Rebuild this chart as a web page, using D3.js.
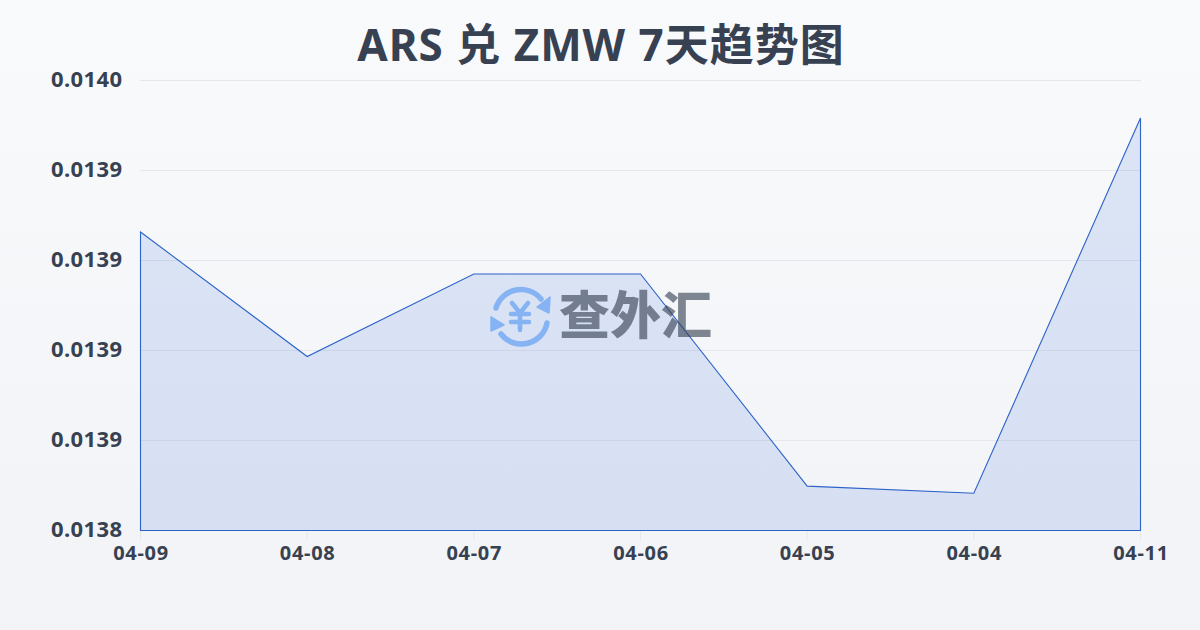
<!DOCTYPE html>
<html><head><meta charset="utf-8">
<script src="https://cdn.jsdelivr.net/npm/d3@7"></script>
<style>
html,body{margin:0;padding:0;width:1200px;height:630px;overflow:hidden}
svg{display:block}
text{font-family:"Noto Sans","Noto Sans CJK SC",sans-serif}
</style></head><body>
<svg id="c" width="1200" height="630"></svg>
<script>
const categories = ["04-09","04-08","04-07","04-06","04-05","04-04","04-11"];
const rates = [0.0139495,0.013908,0.0139355,0.0139355,0.0138648,0.0138624,0.0139875];
const yTicks = [0.01385,0.01388,0.01391,0.01394,0.01397,0.0140];
const yTickLabels = ["0.0138","0.0139","0.0139","0.0139","0.0139","0.0140"];
const titleText = "ARS 兑 ZMW 7天趋势图";
const watermarkText = "查外汇";

const svg = d3.select("#c");
const defs = svg.append("defs");
const bg = defs.append("linearGradient").attr("id","bg").attr("x1",0).attr("y1",0).attr("x2",0).attr("y2",1);
bg.append("stop").attr("offset","0%").attr("stop-color","#f8fafc");
bg.append("stop").attr("offset","100%").attr("stop-color","#f1f3f6");
svg.append("rect").attr("width",1200).attr("height",630).attr("fill","url(#bg)");

const x = d3.scalePoint().domain(categories).range([140.5,1140.5]);
const y = d3.scaleLinear().domain([0.01385,0.0140]).range([530.5,80.5]);

svg.append("text").attr("x",601).attr("y",61).attr("text-anchor","middle")
  .attr("font-size",44).attr("font-weight",700).attr("fill","#374151")
  .attr("letter-spacing",1).text(titleText);

svg.append("g").selectAll("line").data(yTicks).join("line")
  .attr("x1",140).attr("x2",1141)
  .attr("y1",d=>y(d)).attr("y2",d=>y(d))
  .attr("stroke","#e5e7eb").attr("stroke-width",1);

svg.append("g").selectAll("line").data(categories).join("line")
  .attr("x1",d=>x(d)).attr("x2",d=>x(d)).attr("y1",531).attr("y2",540)
  .attr("stroke","#e5e7eb").attr("stroke-width",1);

const pts = categories.map((c,i)=>({c,v:rates[i]}));
const area = d3.area().x(d=>x(d.c)).y0(y.range()[0]).y1(d=>y(d.v));
svg.append("path").datum(pts).attr("d",area).attr("fill","#2a5fdc").attr("fill-opacity",0.13)
  .attr("stroke","#2d62c8").attr("stroke-width",1.1);

svg.append("g").selectAll("text").data(yTicks).join("text")
  .attr("x",122.5).attr("text-anchor","end")
  .attr("y",d=>y(d)+6).attr("font-size",22).attr("font-weight",700).attr("fill","#374151")
  .attr("letter-spacing",0.4).text((d,i)=>yTickLabels[i]);

svg.append("g").selectAll("text").data(categories).join("text")
  .attr("x",d=>x(d)+0.5).attr("y",560).attr("text-anchor","middle")
  .attr("font-size",20).attr("font-weight",700).attr("fill","#374151")
  .attr("letter-spacing",0.7).text(d=>d);

// watermark logo and wordmark
const wm = svg.append("g").attr("opacity",0.6);
const blue = "#4f94f5";
const arcs = wm.append("g").attr("fill","none").attr("stroke",blue).attr("stroke-width",5.5).attr("stroke-linecap","round");
arcs.append("path").attr("d","M496,308 A26,26 0 0 1 541,299");
arcs.append("path").attr("d","M547,323 A26,26 0 0 1 501,334");
wm.append("path").attr("d","M550,297 L549,313 L537,307 Z").attr("fill",blue).attr("stroke",blue).attr("stroke-width",1.5).attr("stroke-linejoin","round");
wm.append("path").attr("d","M491,317 L491,331 L504,325 Z").attr("fill",blue).attr("stroke",blue).attr("stroke-width",1.5).attr("stroke-linejoin","round");
wm.append("path").attr("d","M512,303 L520,313 L528,303 M511,314 H529 M511,322 H529 M520,313 V330")
  .attr("fill","none").attr("stroke",blue).attr("stroke-width",4.5).attr("stroke-linecap","round").attr("stroke-linejoin","round");
wm.append("text").attr("x",559).attr("y",334).attr("font-size",51).attr("font-weight",900)
  .attr("fill","#2f3b4d").style("font-family",'"Noto Sans CJK SC",sans-serif').text(watermarkText);
</script>
</body></html>
